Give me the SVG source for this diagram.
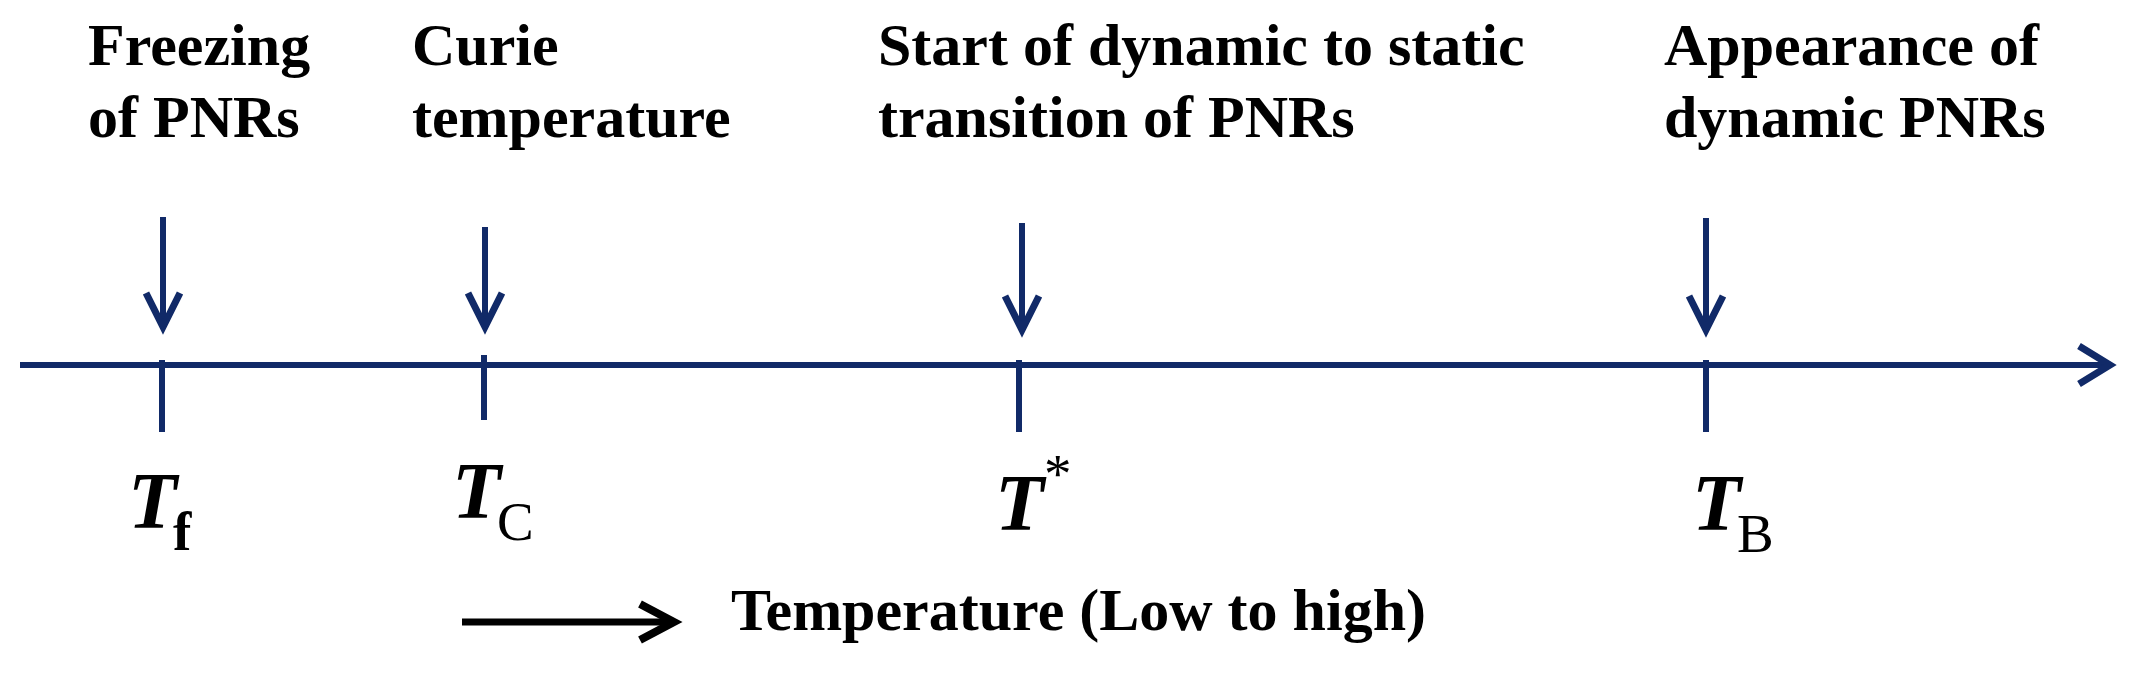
<svg xmlns="http://www.w3.org/2000/svg" width="2130" height="675" viewBox="0 0 2130 675">
<defs>
<style>
.lbl{font-family:"Liberation Serif","Times New Roman",serif;font-weight:bold;font-size:60px;fill:#000}
.sym{font-family:"Liberation Serif","Times New Roman",serif;font-weight:bold;font-style:italic;font-size:80px;fill:#000}
.sub{font-family:"Liberation Serif","Times New Roman",serif;font-style:normal;font-size:55px;fill:#000}
.ax{stroke:#112a68;stroke-width:6;fill:none;stroke-linecap:butt}
.hd{stroke:#112a68;stroke-width:7;fill:none;stroke-linejoin:miter;stroke-linecap:butt}
</style>
</defs>
<rect width="2130" height="675" fill="#fff"/>
<g id="connectors">
<line class="ax" x1="20" y1="365" x2="2106" y2="365" stroke-width="8"/>
<polyline class="hd" points="2079,346 2110,365 2079,384" stroke-width="8"/>
<line class="ax" x1="163" y1="217" x2="163" y2="326"/>
<polyline class="hd" points="146,293 163,327 180,293"/>
<line class="ax" x1="485" y1="227" x2="485" y2="326"/>
<polyline class="hd" points="468,293 485,327 502,293"/>
<line class="ax" x1="1022" y1="223" x2="1022" y2="329"/>
<polyline class="hd" points="1005,296 1022,330 1039,296"/>
<line class="ax" x1="1706" y1="218" x2="1706" y2="329"/>
<polyline class="hd" points="1689,296 1706,330 1723,296"/>
<line x1="462" y1="622" x2="672" y2="622" stroke="#000" stroke-width="7"/>
<polyline points="640,604 674,622 640,640" fill="none" stroke="#000" stroke-width="8"/>
</g>
<g id="tf">
<line class="ax" x1="162" y1="360" x2="162" y2="432"/>
<text class="lbl" x="88" y="65">Freezing</text>
<text class="lbl" x="88" y="137">of PNRs</text>
<text x="128" y="528"><tspan class="sym">T</tspan><tspan class="sub" font-weight="bold" dy="22" dx="-4">f</tspan></text>
</g>
<g id="tc">
<line class="ax" x1="484" y1="355" x2="484" y2="420"/>
<text class="lbl" x="412" y="65">Curie</text>
<text class="lbl" x="412" y="137">temperature</text>
<text x="452" y="518"><tspan class="sym">T</tspan><tspan class="sub" dy="22" dx="-4">C</tspan></text>
</g>
<g id="tstar">
<line class="ax" x1="1019" y1="360" x2="1019" y2="432"/>
<text class="lbl" x="878" y="65">Start of dynamic to static</text>
<text class="lbl" x="878" y="137">transition of PNRs</text>
<text x="995" y="530"><tspan class="sym">T</tspan><tspan class="sub" font-size="34" dy="-38" dx="0">*</tspan></text>
</g>
<g id="tb">
<line class="ax" x1="1706" y1="360" x2="1706" y2="432"/>
<text class="lbl" x="1664" y="65">Appearance of</text>
<text class="lbl" x="1664" y="137">dynamic PNRs</text>
<text x="1692" y="530"><tspan class="sym">T</tspan><tspan class="sub" dy="22" dx="-4">B</tspan></text>
</g>
<g id="caption">
<text class="lbl" x="731" y="630">Temperature (Low to high)</text>
</g>
</svg>
